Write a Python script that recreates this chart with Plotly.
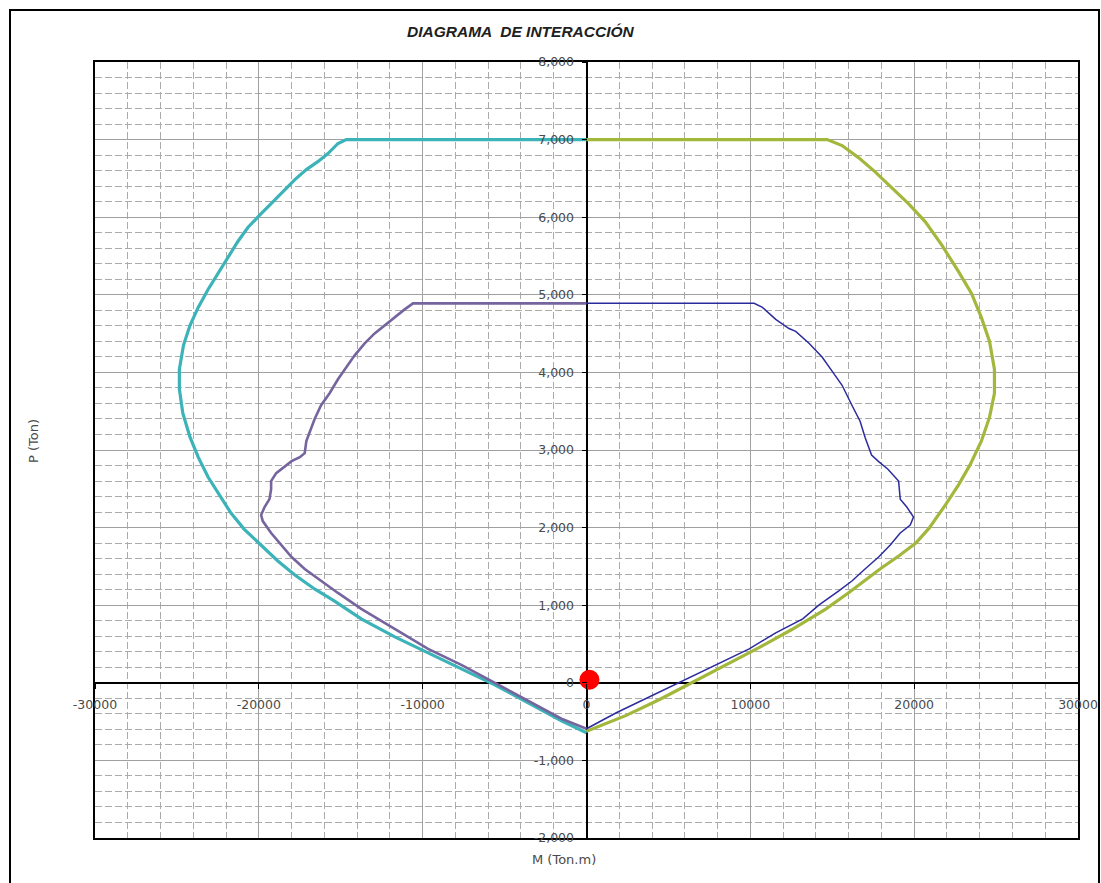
import plotly.graph_objects as go

# Interaction diagram P-M (column section)
# Outer envelope, negative moments
outer_left_m = [0, -14660, -15170, -15780, -16400, -17100, -17800, -18430, -19250, -19860,
                -20670, -21280, -21900, -22500, -23100, -23700, -24200, -24600, -24850, -24850,
                -24640, -24200, -23700, -23100, -22400, -21700, -20900, -19860, -18840, -17800,
                -16600, -15400, -13750, -11700, -9670, -7640, -5600, -3560, -1530, 0]
outer_left_p = [7000, 7000, 6950, 6820, 6716, 6613, 6485, 6356, 6176, 6047,
                5867, 5687, 5481, 5275, 5069, 4838, 4606, 4349, 4040, 3783,
                3474, 3165, 2908, 2651, 2419, 2187, 1981, 1776, 1570, 1390,
                1209, 1055, 823, 592, 386, 180, -26, -257, -489, -643]

# Outer envelope, positive moments
outer_right_m = [0, 14690, 15600, 16600, 17600, 18600, 19650, 20670, 21700, 22700,
                 23500, 24100, 24600, 24900, 24900, 24600, 24100, 23400, 22700, 21900,
                 20900, 20100, 19100, 18000, 17000, 16000, 14600, 12560, 10500, 8500,
                 6480, 4460, 2430, 0]
outer_right_p = [7000, 7000, 6923, 6768, 6588, 6382, 6176, 5944, 5636, 5301,
                 5018, 4709, 4400, 4040, 3731, 3423, 3114, 2805, 2548, 2290,
                 1990, 1800, 1640, 1480, 1320, 1160, 950, 690, 450, 230,
                 10, -215, -420, -625]

# Design (reduced) envelope, negative moments
inner_left_m = [0, -10590, -11100, -11710, -12320, -12930, -13540, -14150, -14660, -15170,
                -15680, -16200, -16600, -16900, -17100, -17200, -17500, -18000, -18500, -18940,
                -19250, -19250, -19350, -19650, -19860, -19760, -19250, -18600, -18000, -17200,
                -16200, -15170, -13750, -11700, -9670, -7640, -5600, -3560, -1530, 0]
inner_left_p = [4890, 4890, 4812, 4709, 4606, 4503, 4375, 4220, 4066, 3911,
                3731, 3577, 3397, 3242, 3114, 2959, 2908, 2856, 2779, 2702,
                2599, 2496, 2367, 2265, 2162, 2084, 1930, 1776, 1621, 1467,
                1312, 1158, 952, 695, 437, 232, 0, -232, -463, -592]

# Design (reduced) envelope, positive moments
inner_right_m = [0, 10230, 10740, 11550, 12360, 12770, 13580, 14390, 15000, 15600,
                 16200, 16700, 17000, 17400, 17800, 18400, 19050, 19150, 19550, 19960,
                 19760, 19150, 18540, 17830, 17000, 16200, 15400, 14200, 13200, 11550,
                 9930, 7900, 5880, 3850, 1820, 0]
inner_right_p = [4890, 4890, 4838, 4683, 4565, 4529, 4375, 4195, 4014, 3834,
                 3577, 3371, 3165, 2934, 2856, 2753, 2599, 2367, 2265, 2136,
                 2033, 1930, 1776, 1621, 1467, 1312, 1184, 1004, 823, 643,
                 437, 232, 26, -180, -386, -592]

# Load point (Mu, Pu)
load_m = [180]
load_p = [40]

# Axis ticks
x_tick_vals = [-30000, -20000, -10000, 0, 10000, 20000, 30000]
x_tick_text = ["-30000", "-20000", "-10000", "0", "10000", "20000", "30000"]
y_tick_vals = [-2000, -1000, 0, 1000, 2000, 3000, 4000, 5000, 6000, 7000, 8000]
y_tick_text = ["-2,000", "-1,000", "0", "1,000", "2,000", "3,000", "4,000",
               "5,000", "6,000", "7,000", "8,000"]

FONT = "Arial, Liberation Sans, sans-serif"
TICK_FONT = "DejaVu Sans, Arial, sans-serif"
X_RANGE = [-30000, 30000]
Y_RANGE = [-2000, 8000]

fig = go.Figure()

fig.add_trace(go.Scatter(x=outer_left_m, y=outer_left_p, mode="lines",
                         line=dict(color="#3BB3B8", width=3.2), showlegend=False))
fig.add_trace(go.Scatter(x=outer_right_m, y=outer_right_p, mode="lines",
                         line=dict(color="#A2B83C", width=3.2), showlegend=False))
fig.add_trace(go.Scatter(x=inner_left_m, y=inner_left_p, mode="lines",
                         line=dict(color="#76649E", width=2.6), showlegend=False))
fig.add_trace(go.Scatter(x=inner_right_m, y=inner_right_p, mode="lines",
                         line=dict(color="#2B2B9E", width=1.5), showlegend=False))
fig.add_trace(go.Scatter(x=load_m, y=load_p, mode="markers",
                         marker=dict(color="#FF0000", size=20), showlegend=False))

# Helper trace so the axes that cross at the origin are rendered
fig.add_trace(go.Scatter(x=[0], y=[0], xaxis="x2", yaxis="y2", mode="markers",
                         marker=dict(opacity=0), hoverinfo="skip", showlegend=False))

grid_major = "#A0A0A0"
grid_minor = "#ABABAB"
minor_dash = "7px,3px"
tick_font = dict(family=TICK_FONT, size=12.5, color="#4A4A4A")

fig.update_layout(
    width=1101, height=883,
    margin=dict(l=95, r=23, t=62, b=45, autoexpand=False),
    paper_bgcolor="white", plot_bgcolor="white",
    font=dict(family=FONT, size=11, color="#404040"),
    xaxis=dict(
        range=X_RANGE, dtick=10000, tick0=0, automargin=False,
        showgrid=True, gridcolor=grid_major, gridwidth=1,
        minor=dict(dtick=2000, showgrid=True, gridcolor=grid_minor,
                   griddash=minor_dash, gridwidth=1),
        zeroline=True, zerolinecolor="black", zerolinewidth=2,
        showline=True, mirror=True, linecolor="black", linewidth=2,
        showticklabels=False, ticks="",
    ),
    yaxis=dict(
        range=Y_RANGE, dtick=1000, tick0=0, automargin=False,
        showgrid=True, gridcolor=grid_major, gridwidth=1,
        minor=dict(dtick=200, showgrid=True, gridcolor=grid_minor,
                   griddash=minor_dash, gridwidth=1),
        zeroline=True, zerolinecolor="black", zerolinewidth=2,
        showline=True, mirror=True, linecolor="black", linewidth=2,
        showticklabels=False, ticks="",
    ),
    xaxis2=dict(
        overlaying="x", anchor="free", position=0.2, side="bottom",
        range=X_RANGE, tickmode="array", tickvals=x_tick_vals, ticktext=x_tick_text,
        ticks="outside", ticklen=5, tickcolor="black", tickwidth=1,
        ticklabelstandoff=5, automargin=False,
        showgrid=False, zeroline=False, showline=False,
        tickfont=tick_font,
    ),
    yaxis2=dict(
        overlaying="y", anchor="free", position=0.5, side="left",
        range=Y_RANGE, tickmode="array", tickvals=y_tick_vals, ticktext=y_tick_text,
        ticks="outside", ticklen=5, tickcolor="black", tickwidth=1,
        ticklabelstandoff=5, automargin=False,
        showgrid=False, zeroline=False, showline=False,
        tickfont=tick_font,
    ),
)

# Title and axis titles
fig.add_annotation(text="<b><i>DIAGRAMA  DE INTERACCIÓN</i></b>",
                   xref="paper", yref="paper", x=(521 - 95) / 983, y=(838 - 32) / 776,
                   xanchor="center", yanchor="middle", showarrow=False,
                   font=dict(family=FONT, size=15.5, color="#202020"))
fig.add_annotation(text="M (Ton.m)", xref="paper", yref="paper",
                   x=(564 - 95) / 983, y=(838 - 860) / 776,
                   xanchor="center", yanchor="middle", showarrow=False,
                   font=dict(family=TICK_FONT, size=13, color="#4A4A4A"))
fig.add_annotation(text="P (Ton)", xref="paper", yref="paper",
                   x=(33 - 95) / 983, y=(838 - 441) / 776, textangle=-90,
                   xanchor="center", yanchor="middle", showarrow=False,
                   font=dict(family=TICK_FONT, size=13, color="#4A4A4A"))

# Outer chart frame
fig.add_shape(type="rect", xref="paper", yref="paper",
              x0=(10 - 95) / 983, x1=(1099 - 95) / 983,
              y0=(838 - 895) / 776, y1=(838 - 10) / 776,
              line=dict(color="black", width=2), fillcolor="rgba(0,0,0,0)",
              layer="above")

fig.write_html("out.html")
